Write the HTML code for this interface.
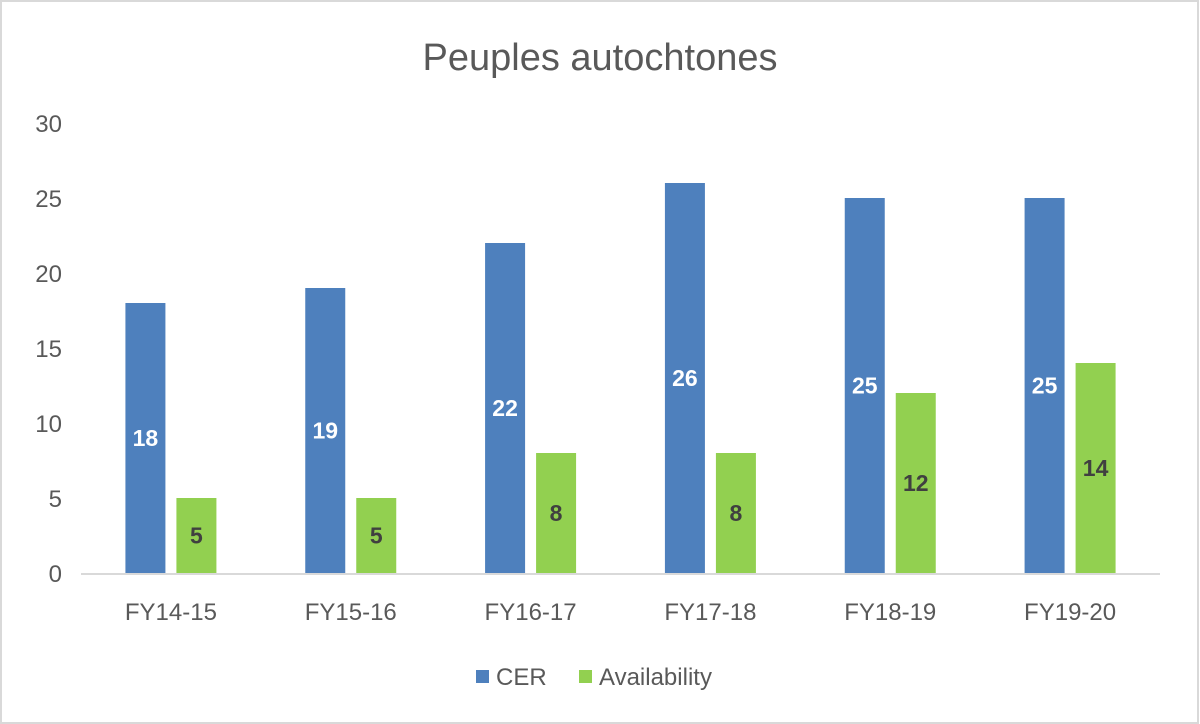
<!DOCTYPE html>
<html><head><meta charset="utf-8"><style>
body{margin:0;background:#fff}
svg{display:block;font-family:"Liberation Sans",sans-serif}
</style></head><body>
<svg width="1200" height="724">
<rect x="1" y="1" width="1197" height="722" fill="#fff" stroke="#d9d9d9" stroke-width="2"/>
<text x="600" y="70" text-anchor="middle" font-size="38" fill="#595959">Peuples autochtones</text>
<g id="yaxis"></g><g id="bars"></g><g id="xaxis"></g>
<g>
<rect x="476" y="670" width="13" height="13" fill="#4e80bd"/>
<text x="496" y="685" font-size="24" fill="#595959">CER</text>
<rect x="579" y="670" width="13" height="13" fill="#92d050"/>
<text x="599" y="685" font-size="24" fill="#595959">Availability</text>
</g>
</svg>
<script>
const categories=["FY14-15","FY15-16","FY16-17","FY17-18","FY18-19","FY19-20"];
const cerValues=[18,19,22,26,25,25];
const availValues=[5,5,8,8,12,14];
const yTicks=[0,5,10,15,20,25,30];
const NS="http://www.w3.org/2000/svg";
const x0=81,x1=1160,y0=573,yTop=123,yMax=30;
const y=v=>y0-(y0-yTop)*v/yMax;
const band=(x1-x0)/categories.length;
function mk(t,a,p){const e=document.createElementNS(NS,t);for(const k in a)e.setAttribute(k,a[k]);p.appendChild(e);return e;}
const ya=document.getElementById('yaxis');
yTicks.forEach(t=>{const e=mk('text',{x:62,y:y(t)+9,'text-anchor':'end','font-size':24,fill:'#595959'},ya);e.textContent=t;

});
const bg=document.getElementById('bars');
const bw=40,gap=11;
categories.forEach((c,i)=>{
 const cx=x0+band*(i+0.5);
 [[cerValues[i],cx-gap/2-bw,'#4e80bd','#fff','bar-cer'],[availValues[i],cx+gap/2,'#92d050','#404040','bar-availability']].forEach(([v,bx,col,lc,nm])=>{
  const r=mk('rect',{x:bx,y:y(v),width:bw,height:y0-y(v),fill:col},bg);
  
  
  const t=mk('text',{x:bx+bw/2,y:(y(v)+y0)/2+8,'text-anchor':'middle','font-size':23,'font-weight':'bold',fill:lc},bg);
  t.textContent=v;
  
  
 });
 const xl=mk('text',{x:cx,y:620,'text-anchor':'middle','font-size':24,fill:'#595959'},document.getElementById('xaxis'));
 xl.textContent=c;
 
 
});
const ax=mk('line',{x1:x0,x2:x1,y1:y0+1,y2:y0+1,stroke:'#d9d9d9','stroke-width':2},document.getElementById('xaxis'));


</script>
</body></html>
